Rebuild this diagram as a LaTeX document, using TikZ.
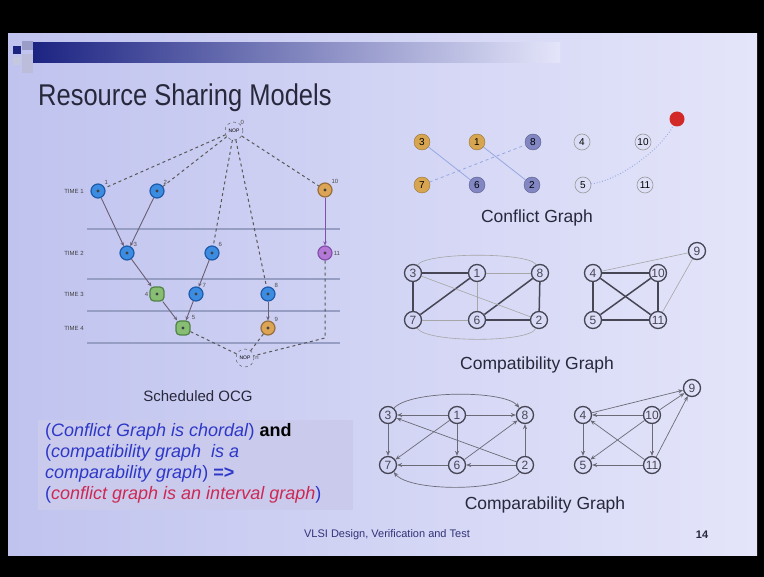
\documentclass[tikz,border=0pt]{standalone}
\usepackage{fontspec}
\setmainfont{Liberation Sans}
\newfontfamily\titlefont[FakeStretch=0.85]{Liberation Sans}
\usetikzlibrary{arrows.meta}
\definecolor{slideL}{RGB}{192,195,238}
\definecolor{slideR}{RGB}{228,229,250}
\definecolor{navy}{RGB}{28,36,130}
\definecolor{titlecol}{RGB}{40,40,60}
\definecolor{ocgblue}{RGB}{60,140,225}
\definecolor{ocgblueD}{RGB}{30,90,170}
\definecolor{ocgorange}{RGB}{220,165,85}
\definecolor{ocgorangeD}{RGB}{150,110,60}
\definecolor{ocgpurple}{RGB}{180,120,215}
\definecolor{ocgpurpleD}{RGB}{130,80,170}
\definecolor{ocggreen}{RGB}{135,190,115}
\definecolor{ocggreenD}{RGB}{80,130,70}
\definecolor{timeline}{RGB}{150,158,195}
\definecolor{edgecol}{RGB}{105,95,115}
\definecolor{cforange}{RGB}{215,165,80}
\definecolor{cfslate}{RGB}{130,135,195}
\definecolor{cfedge}{RGB}{150,168,225}
\definecolor{cfred}{RGB}{210,40,40}
\definecolor{boxcol}{RGB}{202,203,236}
\definecolor{txtblue}{RGB}{45,55,200}
\definecolor{txtred}{RGB}{205,40,85}
\definecolor{footcol}{RGB}{50,50,120}
\definecolor{gcol}{RGB}{70,70,85}
\tikzset{
  ocgnode/.style={circle, minimum size=14pt, inner sep=0pt, line width=1.2pt,
    path picture={\fill[black!75] (path picture bounding box.center) circle (1.6pt);}},
  bluenode/.style={ocgnode, fill=ocgblue, draw=ocgblueD},
  orangenode/.style={ocgnode, fill=ocgorange, draw=ocgorangeD},
  purplenode/.style={ocgnode, fill=ocgpurple, draw=ocgpurpleD},
  greennode/.style={ocgnode, rectangle, rounded corners=4pt, fill=ocggreen, draw=ocggreenD},
  tinylab/.style={font=\fontsize{6}{7}\selectfont, text=black!70},
  nopnode/.style={circle, draw=black!70, dashed, minimum size=18pt, inner sep=0pt, font=\fontsize{5}{6}\selectfont},
  timelab/.style={font=\fontsize{6}{7}\selectfont, text=black!75},
  solidedge/.style={draw=edgecol, line width=0.9pt, -{Stealth[length=4pt,width=3.5pt]}},
  dashededge/.style={draw=black!65, dashed, line width=1pt},
  cfnode/.style={circle, minimum size=16pt, inner sep=0pt, font=\fontsize{10}{11}\selectfont},
  cfo/.style={cfnode, fill=cforange, draw=cforange!70!black},
  cfs/.style={cfnode, fill=cfslate, draw=cfslate!70!black},
  cfw/.style={cfnode, draw=gray!80, line width=0.6pt},
  cfe/.style={draw=cfedge, line width=0.8pt},
  gnode/.style={circle, draw=gcol, line width=1.3pt, minimum size=17pt, inner sep=0pt, font=\fontsize{12}{13}\selectfont, text=gcol},
  thick edge/.style={draw=gcol, line width=1.5pt},
  thin edge/.style={draw=gray!70, line width=0.6pt},
  arr/.style={draw=gcol!80, line width=0.7pt, -{Stealth[length=5pt,width=4pt]}},
  caption/.style={font=\fontsize{17.5}{20}\selectfont, text=titlecol}
}
\begin{document}
\begin{tikzpicture}[x=1pt,y=-1pt]
\useasboundingbox (0,0) rectangle (764,577);
\fill[black] (0,0) rectangle (764,577);
\shade[left color=slideL, right color=slideR] (8,34) rectangle (757,555);
% title bar and decoration
\shade[left color=navy, right color=slideR] (33,43) rectangle (560,63);
\fill[navy] (13,46) rectangle (21,54);
\fill[navy!45] (22,41) rectangle (33,50);
\fill[navy!30] (22,54) rectangle (33,73);
\fill[navy!25] (13,57) rectangle (21,65);
\node[anchor=base west, font=\titlefont\fontsize{30}{36}\selectfont, text=titlecol, inner sep=0pt] (title) at (38,106) {Resource Sharing Models};

% ---------------- Scheduled OCG
\foreach \yy in {229,279,311,343} \draw[timeline, line width=1.2pt] (87,\yy) -- (340,\yy);
\node[timelab] (t1) at (74,191) {TIME 1};
\node[timelab] (t2) at (74,253) {TIME 2};
\node[timelab] (t3) at (74,294) {TIME 3};
\node[timelab] (t4) at (74,328) {TIME 4};

\node[nopnode, label={[tinylab, inner sep=0pt]north east:0}] (src) at (234,131) {NOP};
\node[bluenode, label={[tinylab, inner sep=1pt]north east:1}] (o1) at (98,191) {};
\node[bluenode, label={[tinylab, inner sep=1pt]north east:2}] (o2) at (157,191) {};
\node[orangenode, label={[tinylab, inner sep=1pt]north east:10}] (o10) at (325,190) {};
\node[bluenode, label={[tinylab, inner sep=1pt]north east:3}] (o3) at (127,253) {};
\node[bluenode, label={[tinylab, inner sep=1pt]north east:6}] (o6) at (212,253) {};
\node[purplenode, label={[tinylab, inner sep=1pt]east:11}] (o11) at (325,253) {};
\node[greennode, label={[tinylab, inner sep=1pt]west:4}] (o4) at (157,294) {};
\node[bluenode, label={[tinylab, inner sep=1pt]north east:7}] (o7) at (196,294) {};
\node[bluenode, label={[tinylab, inner sep=1pt]north east:8}] (o8) at (268,294) {};
\node[greennode, label={[tinylab, inner sep=1pt]north east:5}] (o5) at (183,328) {};
\node[orangenode, label={[tinylab, inner sep=1pt]north east:9}] (o9) at (268,328) {};
\node[nopnode, label={[tinylab, inner sep=1pt]east:n}] (snk) at (245,358) {NOP};
\coordinate (c11) at (325,338);

\path[dashededge] (src) -- (o1);
\path[dashededge] (src) -- (o2);
\path[dashededge] (src) -- (o6);
\path[dashededge] (src) -- (o8);
\path[dashededge] (src) -- (o10);
\path[dashededge] (o5) -- (snk);
\path[dashededge] (o9) -- (snk);
\path[dashededge] (o11) -- (c11) -- (snk);

\path[solidedge] (o1) -- (o3);
\path[solidedge] (o2) -- (o3);
\path[solidedge] (o3) -- (o4);
\path[solidedge] (o4) -- (o5);
\path[solidedge] (o6) -- (o7);
\path[solidedge] (o7) -- (o5);
\path[solidedge] (o8) -- (o9);
\path[solidedge, draw=ocgpurpleD] (o10) -- (o11);

\node[font=\fontsize{15}{18}\selectfont, text=titlecol] (ocgcap) at (198,396) {Scheduled OCG};

% ---------------- Conflict graph
\node[cfo] (f3) at (422,142) {3};
\node[cfo] (f1) at (477,142) {1};
\node[cfs] (f8) at (533,142) {8};
\node[cfw] (f4) at (582,142) {4};
\node[cfw] (f10) at (643,142) {10};
\node[cfo] (f7) at (422,185) {7};
\node[cfs] (f6) at (477,185) {6};
\node[cfs] (f2) at (532,185) {2};
\node[cfw] (f5) at (583,185) {5};
\node[cfw] (f11) at (645,185) {11};
\node[circle, fill=cfred, minimum size=15pt, inner sep=0pt] (fr) at (677,119) {};
\path[cfe] (f3) -- (f6);
\path[cfe] (f1) -- (f2);
\path[cfe, dashed] (f7) -- (f8);
\path[cfe, dotted, line width=1pt] (f5) .. controls (620,180) and (660,150) .. (fr);
\node[caption] (cfcap) at (537,218) {Conflict Graph};

% ---------------- Compatibility graph
\node[gnode] (c3) at (413,273) {3};
\node[gnode] (c1) at (477,273) {1};
\node[gnode] (c8) at (540,273) {8};
\node[gnode] (c7) at (413,320) {7};
\node[gnode] (c6) at (477,320) {6};
\node[gnode] (c2) at (539,320) {2};
\node[gnode] (c4) at (593,273) {4};
\node[gnode] (c10) at (658,273) {10};
\node[gnode] (c5) at (593,320) {5};
\node[gnode] (c11) at (658,320) {11};
\node[gnode] (c9) at (697,251) {9};
\path[thick edge] (c3) -- (c1);
\path[thick edge] (c3) -- (c7);
\path[thick edge] (c7) -- (c1);
\path[thick edge] (c6) -- (c8);
\path[thick edge] (c6) -- (c2);
\path[thick edge] (c8) -- (c2);
\path[thin edge] (c1) -- (c8);
\path[thin edge] (c1) -- (c6);
\path[thin edge] (c3) -- (c2);
\path[thin edge] (c7) -- (c6);
\path[thin edge] (c3) .. controls (425,252) and (530,252) .. (c8);
\path[thin edge] (c7) .. controls (425,343) and (530,343) .. (c2);
\path[thick edge] (c4) -- (c10);
\path[thick edge] (c4) -- (c5);
\path[thick edge] (c4) -- (c11);
\path[thick edge] (c5) -- (c10);
\path[thick edge] (c5) -- (c11);
\path[thick edge] (c10) -- (c11);
\path[thin edge] (c4) -- (c9);
\path[thin edge] (c11) -- (c9);
\node[caption] (cpcap) at (537,365) {Compatibility Graph};

% ---------------- Comparability graph
\node[gnode] (p3) at (388,415) {3};
\node[gnode] (p1) at (457,415) {1};
\node[gnode] (p8) at (525,415) {8};
\node[gnode] (p7) at (388,465) {7};
\node[gnode] (p6) at (457,465) {6};
\node[gnode] (p2) at (525,465) {2};
\node[gnode] (p4) at (583,415) {4};
\node[gnode] (p10) at (652,415) {10};
\node[gnode] (p5) at (583,465) {5};
\node[gnode] (p11) at (652,465) {11};
\node[gnode] (p9) at (692,388) {9};
\path[arr] (p1) -- (p3);
\path[arr] (p1) -- (p8);
\path[arr] (p1) -- (p6);
\path[arr] (p1) -- (p7);
\path[arr] (p3) -- (p7);
\path[arr] (p2) -- (p3);
\path[arr] (p6) -- (p8);
\path[arr] (p2) -- (p8);
\path[arr] (p2) -- (p6);
\path[arr] (p6) -- (p7);
\path[arr] (p3) .. controls (410,390) and (505,390) .. (p8);
\path[arr] (p2) .. controls (505,492) and (410,492) .. (p7);
\path[arr] (p10) -- (p4);
\path[arr] (p4) -- (p5);
\path[arr] (p10) -- (p5);
\path[arr] (p11) -- (p4);
\path[arr] (p10) -- (p11);
\path[arr] (p11) -- (p5);
\path[arr] (p4) -- (p9);
\path[arr] (p10) -- (p9);
\path[arr] (p11) -- (p9);
\node[caption] (cmcap) at (545,505) {Comparability Graph};

% ---------------- statement box
\fill[boxcol] (38,420) rectangle (353,510);
\node[anchor=north west, align=left, inner sep=0pt, font=\fontsize{18}{21}\selectfont] (stmt) at (45,423)
{\textcolor{txtblue}{(\textit{Conflict Graph is chordal})} \textbf{and}\\
 \textcolor{txtblue}{(\textit{compatibility graph\ \ is a}}\\
 \textcolor{txtblue}{\textit{comparability graph}) \textbf{=>}}\\
 \textcolor{txtblue}{(}\textcolor{txtred}{\textit{conflict graph is an interval graph}}\textcolor{txtblue}{)}};

% ---------------- footer
\node[font=\fontsize{11}{13}\selectfont, text=footcol] (foot) at (387,535) {VLSI Design, Verification and Test};
\node[font=\bfseries\fontsize{11}{13}\selectfont, text=titlecol] (pg) at (702,535) {14};
\end{tikzpicture}
\end{document}
